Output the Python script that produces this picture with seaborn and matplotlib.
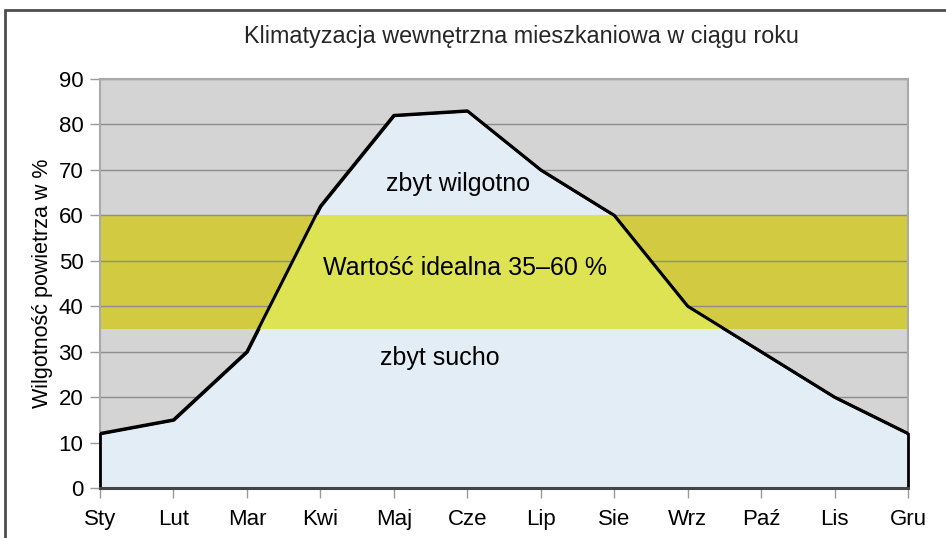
import numpy as np
import pandas as pd
import matplotlib
matplotlib.use("Agg")
import matplotlib.pyplot as plt
import seaborn as sns
from matplotlib.patches import Rectangle

# --- Data ---
months = ["Sty", "Lut", "Mar", "Kwi", "Maj", "Cze", "Lip", "Sie", "Wrz", "Paź", "Lis", "Gru"]
humidity = [12, 15, 30, 62, 82, 83, 70, 60, 40, 30, 20, 12]
ideal_low, ideal_high = 35, 60
y_ticks = [0, 10, 20, 30, 40, 50, 60, 70, 80, 90]

title = "Klimatyzacja wewnętrzna mieszkaniowa w ciągu roku"
ylabel = "Wilgotność powietrza w %"
zone_labels = ["zbyt wilgotno", "Wartość idealna 35–60 %", "zbyt sucho"]
zone_pos = [(4.87, 67), (4.97, 48.5), (4.63, 28.5)]

# --- Style ---
sns.set_theme(style="white")
plt.rcParams["font.family"] = ["Liberation Sans", "DejaVu Sans"]

df = pd.DataFrame({"month": months, "humidity": humidity})
df["x"] = np.arange(len(months))

fig = plt.figure(figsize=(9.46, 5.38), dpi=100)
ax = fig.add_axes([100 / 946, 1 - 488 / 538, 808 / 946, 409 / 538])
ax.set_facecolor("#d4d4d4")

# ideal band (outside the curve)
ax.axhspan(ideal_low, ideal_high, color="#d2cb42", zorder=1, lw=0)

# area under the curve
area = ax.fill_between(df["x"], 0, df["humidity"], facecolor="#e3edf6",
                       edgecolor="black", lw=2, zorder=2, clip_on=False)
# ideal band (inside the curve)
inner = ax.axhspan(ideal_low, ideal_high, color="#dde352", zorder=2.1, lw=0)
clip = area.get_paths()[0]
inner.set_clip_path(clip, ax.transData)

sns.lineplot(data=df, x="x", y="humidity", color="black", lw=2.2, ax=ax, zorder=3)

# grid / axes
ax.set_axisbelow("line")
ax.yaxis.grid(True, color="#8c8c8c", lw=1)
ax.xaxis.grid(False)
ax.set_xlim(0, len(months) - 1)
ax.set_ylim(0, 90)
ax.set_yticks(y_ticks)
ax.set_xticks(df["x"])
ax.set_xticklabels(months)
ax.tick_params(axis="both", which="major", labelsize=16, length=7, width=1,
               color="#999999", direction="out", labelcolor="black")
ax.tick_params(axis="x", pad=8)
ax.tick_params(axis="y", pad=5)
ax.tick_params(bottom=True, left=True)
ax.set_xlabel("")
ax.set_ylabel(ylabel, fontsize=15.5, labelpad=4, color="black")

for side in ["left", "top", "right"]:
    ax.spines[side].set_color("#aaaaaa")
    ax.spines[side].set_linewidth(1.5)
    ax.spines[side].set_zorder(1.8)
ax.spines["bottom"].set_color("#444444")
ax.spines["bottom"].set_linewidth(2.2)
ax.spines["bottom"].set_zorder(4)

for text, (tx, ty) in zip(zone_labels, zone_pos):
    ax.text(tx, ty, text, ha="center", va="center", fontsize=18, color="black", zorder=5)

fig.text(521 / 946, 1 - 37 / 538, title, ha="center", va="center", fontsize=16.8)

# outer frame (left + top)
fig.patches.append(Rectangle((5 / 946, -0.1), 1.2, 1 - 10 / 538 + 0.1,
                             transform=fig.transFigure, fill=False,
                             edgecolor="#4d4d4d", lw=2))

fig.savefig("out.png", dpi=100)
